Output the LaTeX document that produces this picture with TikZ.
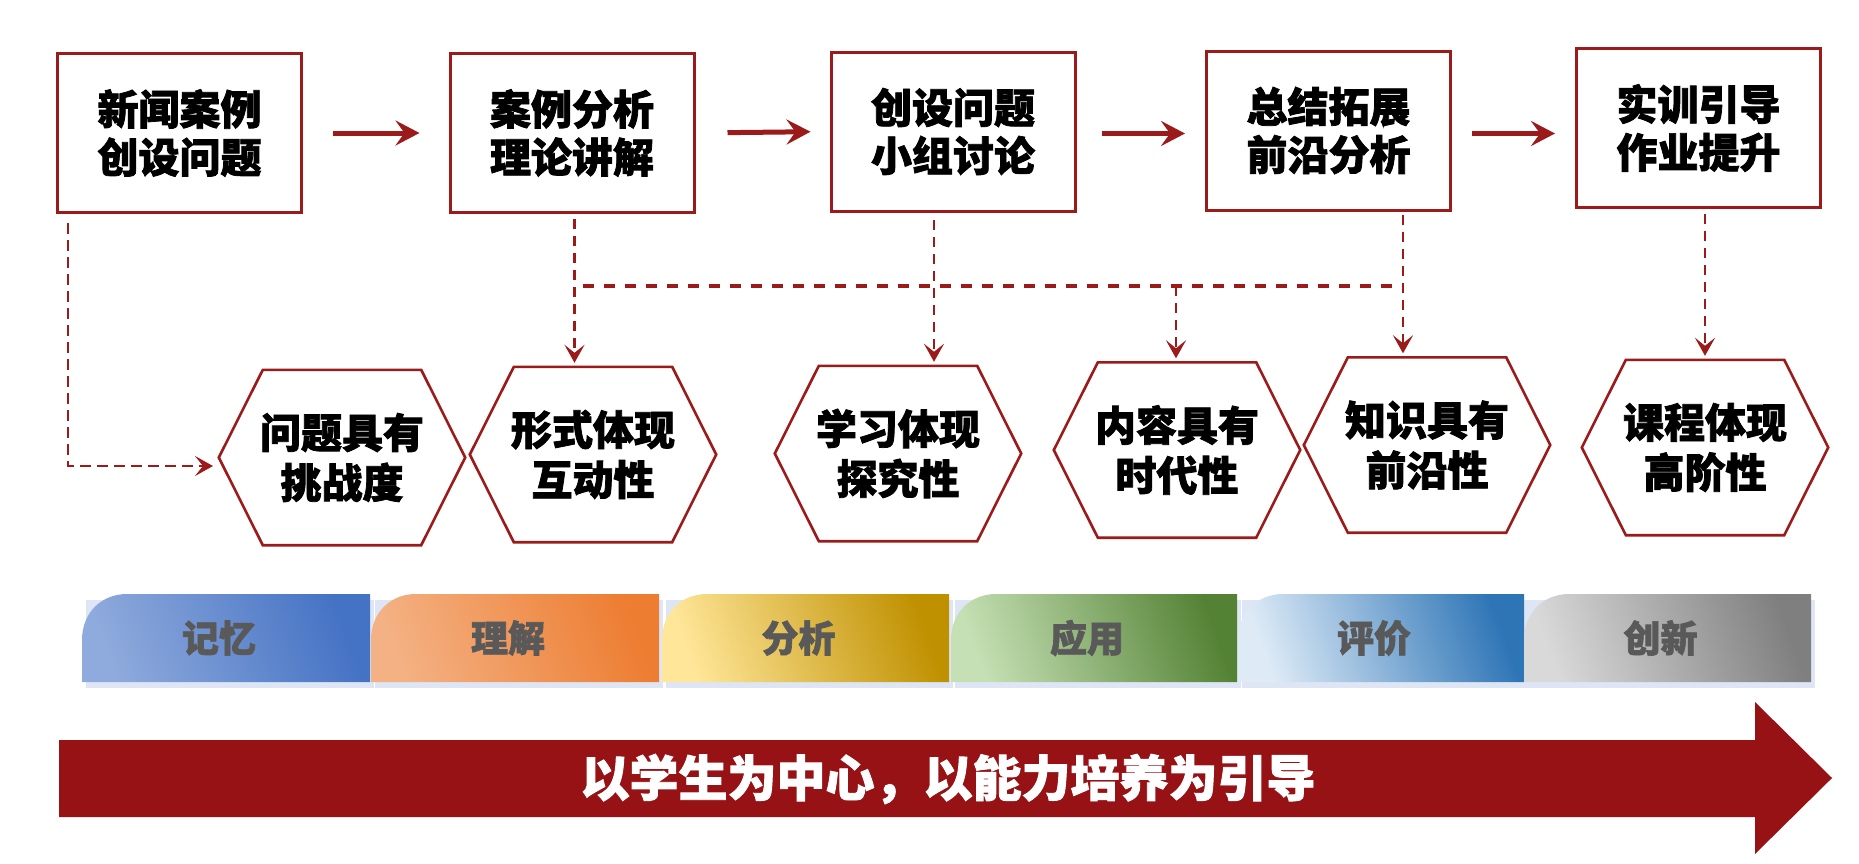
\documentclass[tikz,border=0pt]{standalone}
\usepackage{fontspec}
\newfontfamily\cjk{Noto Sans CJK SC}[BoldFeatures={FakeBold=1.8}]
\usetikzlibrary{arrows.meta}
\definecolor{bred}{RGB}{155,26,26}
\definecolor{bigred}{RGB}{151,18,20}
\definecolor{bandtxt}{RGB}{89,89,89}
\definecolor{shadowc}{RGB}{222,230,245}
\definecolor{b1l}{RGB}{143,170,220}\definecolor{b1d}{RGB}{68,114,196}
\definecolor{b2l}{RGB}{244,177,131}\definecolor{b2d}{RGB}{237,125,49}
\definecolor{b3l}{RGB}{255,230,153}\definecolor{b3d}{RGB}{191,144,0}
\definecolor{b4l}{RGB}{197,224,180}\definecolor{b4d}{RGB}{84,130,53}
\definecolor{b5l}{RGB}{222,235,247}\definecolor{b5d}{RGB}{46,117,182}
\definecolor{b6l}{RGB}{217,217,217}\definecolor{b6d}{RGB}{127,127,127}
\tikzset{
 topbox/.style={draw=bred, line width=3pt, minimum width=244pt, minimum height=159pt, inner sep=0pt, align=center, font=\cjk\bfseries\fontsize{41}{48}\selectfont},
 hexbox/.style={minimum width=246pt, minimum height=175pt, inner sep=0pt, align=center, font=\cjk\bfseries\fontsize{41}{50}\selectfont},
 hexline/.style={draw=bred, line width=2.6pt, line join=miter},
 flowarrow/.style={draw=bred, line width=5pt, -{Stealth[length=24pt,width=25pt,inset=9pt]}},
 dasharrow/.style={draw=bred, line width=2.7pt, dash pattern=on 10pt off 7pt, -{Stealth[length=18pt,width=20pt,inset=8pt]}},
 busline/.style={draw=bred, line width=3.3pt, dash pattern=on 11.3pt off 9.7pt},
 bandtext/.style={text=bandtxt, font=\cjk\bfseries\fontsize{37}{40}\selectfont, inner sep=0pt},
 bigtext/.style={text=white, font=\cjk\bfseries\fontsize{49}{52}\selectfont, inner sep=0pt},
}
\newcommand\HexNode[4]{%
 \node[hexbox] (#1) at (#2,#3) {#4};
 \draw[hexline] (#1.west) -- ([xshift=44pt]#1.north west) -- ([xshift=-44pt]#1.north east) -- (#1.east) -- ([xshift=-44pt]#1.south east) -- ([xshift=44pt]#1.south west) -- cycle;}
\newcommand\BloomBand[6]{%
 \fill[shadowc] (#2+4,600) rectangle (#3+4,688);
 \path[top color=#5, bottom color=#4, shading angle=-70] (#2,682) -- (#2,640) .. controls (#2,612) and (#2+20,594) .. (#2+45,594) -- (#3,594) -- (#3,682) -- cycle;
 \node[bandtext] (#1) at ({(#2+#3)/2-7},638) {#6};}
\begin{document}
\begin{tikzpicture}[x=1pt,y=-1pt]
\useasboundingbox (0,0) rectangle (1859,863);
% top boxes
\node[topbox] (B1) at (179.5,133) {新闻案例\\创设问题};
\node[topbox] (B2) at (572,133) {案例分析\\理论讲解};
\node[topbox] (B3) at (953,131.5) {创设问题\\小组讨论};
\node[topbox] (B4) at (1328.5,130.5) {总结拓展\\前沿分析};
\node[topbox] (B5) at (1698.5,128) {实训引导\\作业提升};
\draw[flowarrow, shorten <=30pt, shorten >=29pt] (B1.east) -- (B2.west);
\draw[flowarrow, shorten <=32pt, shorten >=19pt] (B2.east) -- (B3.west);
\draw[flowarrow, shorten <=25pt, shorten >=20pt] ([yshift=-2pt]B3.east) -- ([yshift=-2pt]B3.east -| B4.west);
\draw[flowarrow, shorten <=20pt, shorten >=20pt] ([yshift=-3pt]B4.east) -- ([yshift=-3pt]B4.east -| B5.west);
% hexagons
\HexNode{H1}{342}{457.5}{问题具有\\挑战度}
\HexNode{H2}{593}{454.5}{形式体现\\互动性}
\HexNode{H3}{898}{453.5}{学习体现\\探究性}
\HexNode{H4}{1177}{450}{内容具有\\时代性}
\HexNode{H5}{1427}{445}{知识具有\\前沿性}
\HexNode{H6}{1705}{447.5}{课程体现\\高阶性}
% dashed connectors
\coordinate (c1) at (68,223);
\coordinate (h1in) at (213,466);
\draw[dasharrow, dash pattern=on 11pt off 6pt] (c1) |- (h1in);
\coordinate (busL) at (574.5,286);
\coordinate (busM) at (1176,286);
\coordinate (busR) at (1403,286);
\draw[busline, shorten <=8pt, shorten >=8pt] (busL) -- (busR);
\draw[dasharrow, shorten <=5pt, shorten >=4pt] (B2.south -| busL) -- (busL |- H2.north);
\draw[dasharrow, shorten <=7pt, shorten >=4pt] ([xshift=-19pt]B3.south) -- ([xshift=-19pt]B3.south |- H3.north);
\draw[dasharrow, shorten >=4pt] (busM) -- (busM |- H4.north);
\draw[dasharrow, shorten <=3pt, shorten >=4pt] (B4.south -| busR) -- (busR |- H5.north);
\draw[dasharrow, shorten <=5pt, shorten >=4pt] (B5.south -| H6.north) -- (H6.north);
% bloom bands
\BloomBand{L1}{82}{370}{b1l}{b1d}{记忆}
\BloomBand{L2}{371}{659}{b2l}{b2d}{理解}
\BloomBand{L3}{662}{949}{b3l}{b3d}{分析}
\BloomBand{L4}{951}{1237}{b4l}{b4d}{应用}
\BloomBand{L5}{1238}{1524}{b5l}{b5d}{评价}
\BloomBand{L6}{1524}{1811}{b6l}{b6d}{创新}
% big arrow
\fill[bigred] (59,740) -- (1755,740) -- (1755,702) -- (1832,778) -- (1755,854) -- (1755,817) -- (59,817) -- cycle;
\node[bigtext] (T) at (948,779) {以学生为中心，以能力培养为引导};
\end{tikzpicture}
\end{document}
